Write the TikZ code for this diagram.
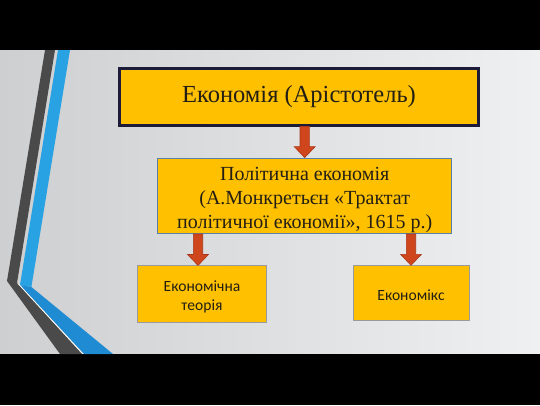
\documentclass[tikz,border=0pt]{standalone}
\usepackage{fontspec}
\setmainfont{Liberation Serif}
\newfontfamily\boxsans{Carlito}
\usetikzlibrary{calc}
\definecolor{boxgold}{HTML}{FFC000}
\definecolor{navyedge}{HTML}{1C1C3A}
\definecolor{blueedge}{HTML}{5A7FA8}
\definecolor{grayedge}{HTML}{9A9A9A}
\definecolor{arrfill}{HTML}{D0461C}
\definecolor{arredge}{HTML}{A8371A}
\definecolor{txt}{HTML}{231F14}
\definecolor{stripedark}{HTML}{4A4A4A}
\definecolor{stripeblue}{HTML}{28A2E2}
\definecolor{stripeblue2}{HTML}{1F8BD2}
\definecolor{bgleft}{HTML}{CDCFD1}
\definecolor{bgright}{HTML}{EFF0F1}
\tikzset{
  basebox/.style={rectangle, fill=boxgold, inner sep=0pt},
  boxtext/.style={text=txt, align=center, inner sep=0pt},
  topbox/.style={basebox, draw=navyedge, line width=2.2pt},
  midbox/.style={basebox, draw=blueedge, line width=1.4pt},
  lowbox/.style={basebox, draw=grayedge, line width=1pt},
  toptext/.style={boxtext, font=\fontsize{24.5}{28}\selectfont},
  midtext/.style={boxtext, font=\fontsize{20}{24.2}\selectfont},
  lowtext/.style={boxtext, font=\boxsans\fontsize{15.6}{19}\selectfont},
  blockarr/.style={fill=arrfill, draw=arredge, line width=0.6pt, line join=miter},
}
\newcommand{\blkarrow}[2]{%
  \path (#2 |- #1) coordinate (as) (#2) coordinate (at);
  \filldraw[blockarr] ($(as)+(-4.7,0)$) -- ($(at)+(-4.7,-11)$) -- ($(at)+(-10.5,-11)$) -- (at)
    -- ($(at)+(10.5,-11)$) -- ($(at)+(4.7,-11)$) -- ($(as)+(4.7,0)$) -- cycle;}
\begin{document}
\begin{tikzpicture}[x=1pt,y=-1pt]
\useasboundingbox (0,0) rectangle (540,405);
% background
\shade[left color=bgleft, right color=bgright] (0,50) rectangle (540,354);
\fill[black] (0,0) rectangle (540,50);
\fill[black] (0,354) rectangle (540,405);
% stripes
\fill[stripedark] (45,50) -- (55,50) -- (17,283) -- (82,354) -- (60,354) -- (7,281) -- cycle;
\fill[stripeblue] (58,50) -- (70,50) -- (31.4,287) -- (20,285) -- cycle;
\fill[stripeblue2] (20,285) -- (31.4,287) -- (113,354) -- (84,354) -- cycle;
\draw[white, line width=0.7pt] (18.5,284) -- (83,354);
% boxes
\node[topbox, minimum width=359pt, minimum height=57pt,
  label={[toptext]center:Економія (Арістотель)}] (b1) at (299,96.9) {};
\node[midbox, minimum width=294pt, minimum height=75pt,
  label={[midtext, yshift=-4pt]center:{Політична економія\\(А.Монкретьєн «Трактат\\політичної економії», 1615 р.)}}] (b2) at (304.7,195.8) {};
\node[lowbox, minimum width=129pt, minimum height=56.7pt,
  label={[lowtext, yshift=-3pt]center:{Економічна\\теорія}}] (b3) at (202,294.3) {};
\node[lowbox, minimum width=116pt, minimum height=55pt,
  label={[lowtext, yshift=-1.5pt]center:Економікс}] (b4) at (411,293.3) {};
% arrows
\coordinate (t1) at (b2.north);
\coordinate (t3) at ($(b3.north)+(-4,0)$);
\coordinate (t4) at (b4.north);
\blkarrow{b1.south}{t1}
\blkarrow{b2.south}{t3}
\blkarrow{b2.south}{t4}
\end{tikzpicture}
\end{document}
